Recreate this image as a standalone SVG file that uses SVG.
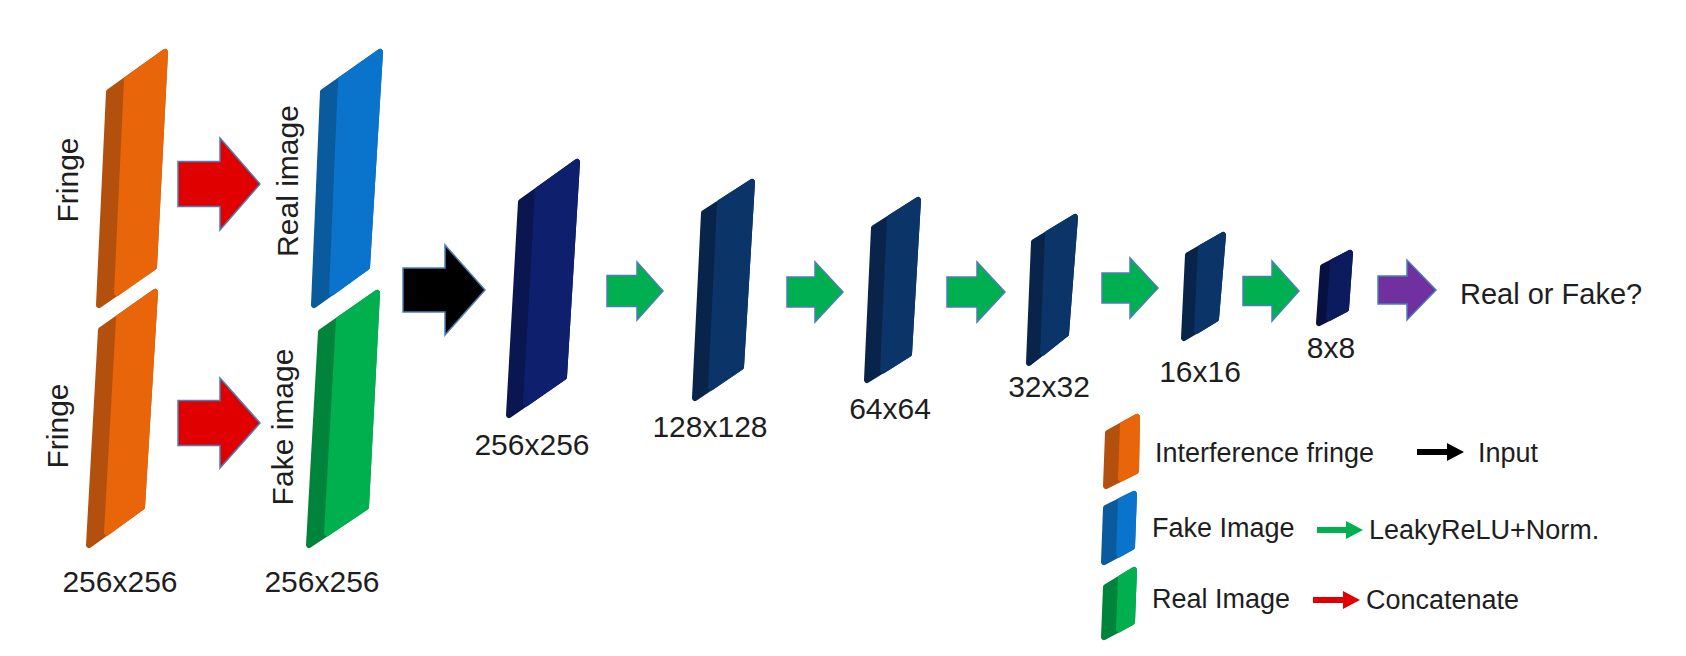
<svg xmlns="http://www.w3.org/2000/svg" width="1686" height="656" viewBox="0 0 1686 656">
<defs>
<style>
text{font-family:"Liberation Sans",Arial,sans-serif;fill:#1e1e1e}
.dim{font-size:30px;text-anchor:middle}
.rot{font-size:30px;text-anchor:middle}
.lbl{font-size:29px}
.leg{font-size:27px}
.slab path{stroke-width:6;stroke-linejoin:round}
.or .o{fill:#b4500d;stroke:#b4500d}.or .f{fill:#e8650a;stroke:#e8650a}
.bl .o{fill:#0a5a9e;stroke:#0a5a9e}.bl .f{fill:#0a74cc;stroke:#0a74cc}
.gr .o{fill:#00843c;stroke:#00843c}.gr .f{fill:#00b04f;stroke:#00b04f}
.nv1 .o{fill:#0a1650;stroke:#0a1650}.nv1 .f{fill:#0e1f6e;stroke:#0e1f6e}
.nv .o{fill:#08244a;stroke:#08244a}.nv .f{fill:#0b3468;stroke:#0b3468}
.nv6 .o{fill:#081040;stroke:#081040}.nv6 .f{fill:#0c1a5e;stroke:#0c1a5e}
.arr{stroke:#4a7fb5;stroke-width:1.5;stroke-linejoin:miter}
.red{fill:#e00000}.grn{fill:#00b050}.blk{fill:#000}.pur{fill:#7030a0}
.la{stroke-width:6;fill:none}
</style>
<marker id="hk" markerUnits="userSpaceOnUse" markerWidth="18" markerHeight="18" refX="0" refY="9" orient="auto"><path d="M0,0 L17,9 L0,18 Z" fill="#000"/></marker>
<marker id="hg" markerUnits="userSpaceOnUse" markerWidth="18" markerHeight="18" refX="0" refY="9" orient="auto"><path d="M0,0 L17,9 L0,18 Z" fill="#00b050"/></marker>
<marker id="hr" markerUnits="userSpaceOnUse" markerWidth="18" markerHeight="18" refX="0" refY="9" orient="auto"><path d="M0,0 L17,9 L0,18 Z" fill="#e00000"/></marker>
</defs>
<rect width="1686" height="656" fill="#fff"/>

<g id="fringe-top" class="slab or">
<path class="o" d="M109,92 L165,52 L154,267 L99,305 Z"/>
<path class="f" d="M127,79.2 L165,52 L154,267 L117,293 Z"/>
<text class="rot" transform="translate(78,180) rotate(-90)">Fringe</text>
</g>
<g id="fringe-bottom" class="slab or">
<path class="o" d="M101,330 L155,292 L142,507 L89,545 Z"/>
<path class="f" d="M119,317.4 L155,292 L142,507 L107,532.5 Z"/>
<text class="rot" transform="translate(68,426) rotate(-90)">Fringe</text>
<text class="dim" x="120" y="592">256x256</text>
</g>
<g id="real-image" class="slab bl">
<path class="o" d="M323,92 L380,52 L367,267 L314,305 Z"/>
<path class="f" d="M341,79.4 L380,52 L367,267 L332,292.5 Z"/>
<text class="rot" transform="translate(298,181) rotate(-90)">Real image</text>
</g>
<g id="fake-image" class="slab gr">
<path class="o" d="M321,332 L377,293 L366,507 L309,545 Z"/>
<path class="f" d="M339,319.5 L377,293 L366,507 L327,533.3 Z"/>
<text class="rot" transform="translate(293,427) rotate(-90)">Fake image</text>
<text class="dim" x="322" y="592">256x256</text>
</g>
<g id="layer-256" class="slab nv1">
<path class="o" d="M521,202 L577,162 L564,377 L509,415 Z"/>
<path class="f" d="M538,189.9 L577,162 L564,377 L526,403.6 Z"/>
<text class="dim" x="532" y="455">256x256</text>
</g>
<g id="layer-128" class="slab nv">
<path class="o" d="M704,213 L752,182 L741,367 L695,398 Z"/>
<path class="f" d="M720,202.6 L752,182 L741,367 L711,387.6 Z"/>
<text class="dim" x="710" y="437">128x128</text>
</g>
<g id="layer-64" class="slab nv">
<path class="o" d="M874,228 L918,200 L909,354 L867,380 Z"/>
<path class="f" d="M890,217.8 L918,200 L909,354 L883,370.4 Z"/>
<text class="dim" x="890" y="419">64x64</text>
</g>
<g id="layer-32" class="slab nv">
<path class="o" d="M1034,242 L1075,217 L1066,334 L1029,363 Z"/>
<path class="f" d="M1048,233.4 L1075,217 L1066,334 L1043,352.5 Z"/>
<text class="dim" x="1049" y="397">32x32</text>
</g>
<g id="layer-16" class="slab nv">
<path class="o" d="M1188,255 L1223,235 L1216,319 L1184,338 Z"/>
<path class="f" d="M1201,247.5 L1223,235 L1216,319 L1197,330.6 Z"/>
<text class="dim" x="1200" y="382">16x16</text>
</g>
<g id="layer-8" class="slab nv6">
<path class="o" d="M1323,267 L1350,253 L1346,309 L1319,323 Z"/>
<path class="f" d="M1333,261.7 L1350,253 L1346,309 L1329,318 Z"/>
<text class="dim" x="1331" y="358">8x8</text>
</g>
<g id="output">
<text class="lbl" x="1460" y="304">Real or Fake?</text>
</g>

<g id="connectors">
<path class="arr red" d="M178,161.5 H220 V138 L260,184 L220,230 V206.5 H178 Z"/>
<path class="arr red" d="M178,400.5 H220 V378 L260,423 L220,468 V445.5 H178 Z"/>
<path class="arr blk" d="M403,268 H445 V245 L485,290 L445,335 V312 H403 Z"/>
<path class="arr grn" d="M607,275.5 H637 V262 L663,291 L637,320 V306.5 H607 Z"/>
<path class="arr grn" d="M787,277 H815 V262 L843,292 L815,322 V307 H787 Z"/>
<path class="arr grn" d="M947,277 H977 V262 L1005,292 L977,322 V307 H947 Z"/>
<path class="arr grn" d="M1102,273 H1130 V258 L1158,288 L1130,318 V303 H1102 Z"/>
<path class="arr grn" d="M1243,276.5 H1272 V261 L1299,291 L1272,321 V305.5 H1243 Z"/>
<path class="arr pur" d="M1378,276 H1407 V260 L1436,290 L1407,320 V304 H1378 Z"/>
</g>

<g id="legend">
<g id="legend-fringe" class="slab or">
<path class="o" d="M1108,433 L1137,417 L1136,471 L1106,486 Z"/>
<path class="f" d="M1123,424.6 L1137,417 L1136,471 L1121,478.7 Z"/>
<text class="leg" x="1155" y="462">Interference fringe</text>
</g>
<g id="legend-fake" class="slab bl">
<path class="o" d="M1106,508 L1134,494 L1132,547 L1104,562 Z"/>
<path class="f" d="M1121,500.3 L1134,494 L1132,547 L1119,554.3 Z"/>
<text class="leg" x="1152" y="537">Fake Image</text>
</g>
<g id="legend-real" class="slab gr">
<path class="o" d="M1106,587 L1134,570 L1132,622 L1104,637 Z"/>
<path class="f" d="M1121,577.8 L1134,570 L1132,622 L1119,629.3 Z"/>
<text class="leg" x="1152" y="608">Real Image</text>
</g>
<g id="legend-input">
<line class="la" x1="1417" y1="452" x2="1447" y2="452" stroke="#000" marker-end="url(#hk)"/>
<text class="leg" x="1478" y="462">Input</text>
</g>
<g id="legend-leaky">
<line class="la" x1="1317" y1="530" x2="1346" y2="530" stroke="#00b050" marker-end="url(#hg)"/>
<text class="leg" x="1369" y="539">LeakyReLU+Norm.</text>
</g>
<g id="legend-concat">
<line class="la" x1="1313" y1="600" x2="1343" y2="600" stroke="#e00000" marker-end="url(#hr)"/>
<text class="leg" x="1366" y="609">Concatenate</text>
</g>
</g>
</svg>
